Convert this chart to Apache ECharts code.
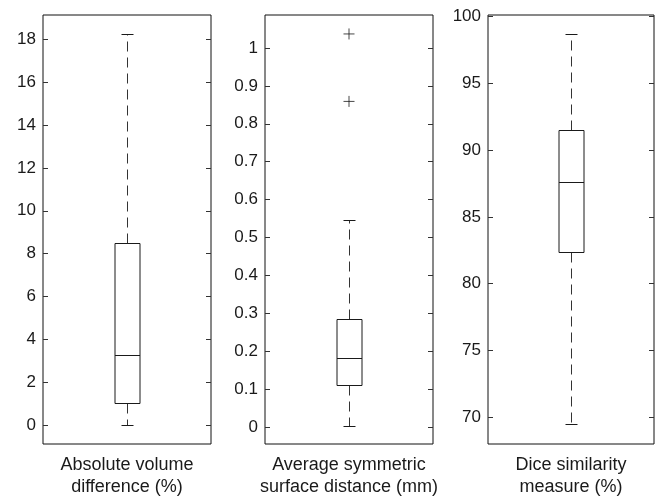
<!DOCTYPE html>
<html>
<head>
<meta charset="utf-8">
<script src="https://cdn.jsdelivr.net/npm/echarts@6/dist/echarts.min.js"></script>
<style>
  html, body { margin: 0; padding: 0; background: #fff; }
  #chart { width: 658px; height: 498px; }
</style>
</head>
<body>
<div id="chart"></div>
<script>
// x-axis labels of the three panels
const panelLabels = [
  'Absolute volume\ndifference (%)',
  'Average symmetric\nsurface distance (mm)',
  'Dice similarity\nmeasure (%)'
]

// box statistics: [low whisker, q1, median, q3, high whisker]
const volumeBox = [0, 1.03, 3.25, 8.48, 18.25]
const distanceBox = [0.002, 0.110, 0.182, 0.285, 0.546]
const diceBox = [69.5, 82.35, 87.6, 91.5, 98.7]

// outliers
const volumeOutliers = []
const distanceOutliers = [1.037, 0.859]
const diceOutliers = []

// tick values
const volumeTicks = [0, 2, 4, 6, 8, 10, 12, 14, 16, 18]
const distanceTicks = [0, 0.1, 0.2, 0.3, 0.4, 0.5, 0.6, 0.7, 0.8, 0.9, 1]
const diceTicks = [70, 75, 80, 85, 90, 95, 100]

// axis ranges
const volumeRange = [-0.89, 19.14]
const distanceRange = [-0.045, 1.087]
const diceRange = [68.0, 100.12]

const boxes = [volumeBox, distanceBox, diceBox]
const outliers = [volumeOutliers, distanceOutliers, diceOutliers]
const ticks = [volumeTicks, distanceTicks, diceTicks]
const ranges = [volumeRange, distanceRange, diceRange]

const grids = [
  { left: 43, top: 15, width: 168, height: 435 },
  { left: 265, top: 15, width: 168, height: 435 },
  { left: 488, top: 15, width: 166, height: 435 }
]

const fontFamily = 'Liberation Sans, Arial, sans-serif'
const inkColor = '#1a1a1a'

function px (v) {
  return Math.round(v) + 0.5
}

function renderBox (params, api) {
  const cx = px(api.coord([0, api.value(3)])[0])
  const y = [1, 2, 3, 4, 5].map(i => px(api.coord([0, api.value(i)])[1]))
  const half = 12.5
  const cap = 6
  const dashed = { stroke: '#333', lineWidth: 1, lineDash: [10, 6] }
  const solid = { stroke: inkColor, lineWidth: 1 }
  return {
    type: 'group',
    children: [
      { type: 'line', shape: { x1: cx, y1: y[3], x2: cx, y2: y[4] }, style: dashed },
      { type: 'line', shape: { x1: cx, y1: y[1], x2: cx, y2: y[0] }, style: dashed },
      { type: 'line', shape: { x1: cx - cap, y1: y[4], x2: cx + cap, y2: y[4] }, style: solid },
      { type: 'line', shape: { x1: cx - cap, y1: y[0], x2: cx + cap, y2: y[0] }, style: solid },
      { type: 'rect', shape: { x: Math.round(cx - half), y: y[3], width: half * 2, height: y[1] - y[3] }, style: { fill: '#fff', stroke: inkColor, lineWidth: 1 } },
      { type: 'line', shape: { x1: Math.round(cx - half), y1: y[2], x2: Math.round(cx + half), y2: y[2] }, style: solid }
    ]
  }
}

const xAxes = panelLabels.map((label, i) => ({
  type: 'category',
  gridIndex: i,
  data: [label],
  axisLine: { show: false },
  axisTick: { show: false },
  axisLabel: {
    margin: 10,
    fontSize: 18,
    lineHeight: 22,
    color: inkColor,
    fontFamily
  }
}))

const leftAxes = ranges.map((r, i) => ({
  type: 'value',
  gridIndex: i,
  position: 'left',
  min: r[0],
  max: r[1],
  splitLine: { show: false },
  axisLine: { show: false },
  axisTick: { show: true, inside: true, length: 5, customValues: ticks[i], lineStyle: { color: '#333' } },
  axisLabel: {
    margin: 7,
    fontSize: 17,
    color: inkColor,
    fontFamily,
    customValues: ticks[i],
    formatter: v => String(v)
  }
}))

const rightAxes = ranges.map((r, i) => ({
  type: 'value',
  gridIndex: i,
  position: 'right',
  min: r[0],
  max: r[1],
  splitLine: { show: false },
  axisLine: { show: false },
  axisTick: { show: true, inside: true, length: 5, customValues: ticks[i], lineStyle: { color: '#333' } },
  axisLabel: { show: false }
}))

const boxSeries = boxes.map((b, i) => ({
  type: 'custom',
  xAxisIndex: i,
  yAxisIndex: i,
  renderItem: renderBox,
  encode: { x: 0, y: [1, 2, 3, 4, 5] },
  data: [[0].concat(b)],
  silent: true,
  z: 2
}))

const outlierSeries = outliers.map((o, i) => ({
  type: 'scatter',
  xAxisIndex: i,
  yAxisIndex: i,
  symbol: 'path://M0 5H10M5 0V10',
  symbolSize: 11,
  itemStyle: { color: 'none', borderColor: inkColor, borderWidth: 1 },
  data: o.map(v => [0, v]),
  silent: true,
  z: 3
}))

const chart = echarts.init(document.getElementById('chart'), null, { renderer: 'canvas' })
chart.setOption({
  animation: false,
  backgroundColor: '#fff',
  grid: grids.map(g => Object.assign({ show: true, borderColor: '#111', borderWidth: 1, backgroundColor: 'transparent' }, g)),
  xAxis: xAxes,
  yAxis: leftAxes.concat(rightAxes),
  series: boxSeries.concat(outlierSeries)
})
</script>
</body>
</html>
